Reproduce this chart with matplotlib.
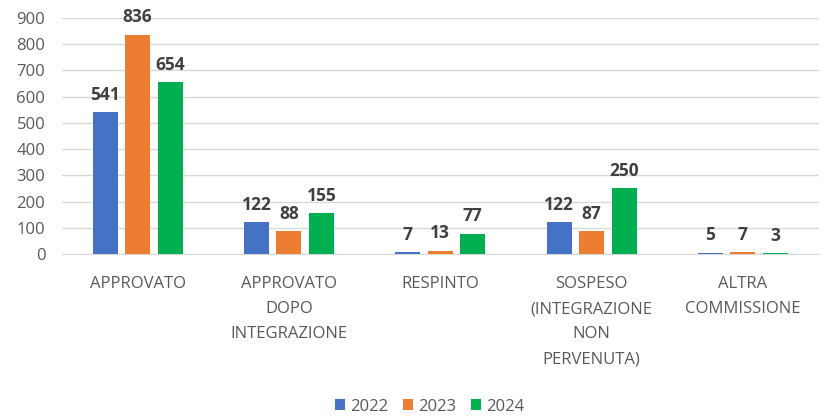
import numpy as np
import matplotlib
matplotlib.use("Agg")
from matplotlib import pyplot as plt

# data
categories = ["APPROVATO", "APPROVATO\nDOPO\nINTEGRAZIONE", "RESPINTO",
              "SOSPESO\n(INTEGRAZIONE\nNON\nPERVENUTA)", "ALTRA\nCOMMISSIONE"]
years = ["2022", "2023", "2024"]
v2022 = [541, 122, 7, 122, 5]
v2023 = [836, 88, 13, 87, 7]
v2024 = [654, 155, 77, 250, 3]
yticks = [0, 100, 200, 300, 400, 500, 600, 700, 800, 900]

colors = ["#4472C4", "#ED7D31", "#00B050"]

plt.rcParams['font.family'] = ['Open Sans', 'DejaVu Sans']

fig = plt.figure(figsize=(8.26, 4.17), dpi=100)
ax = fig.add_axes([0.075, 0.391, 0.916, 0.566])

x = np.arange(len(categories))
step = 0.215
width = 0.165
for i, (vals, col, yr) in enumerate(zip([v2022, v2023, v2024], colors, years)):
    bars = ax.bar(x + (i - 1) * step, vals, width, color=col, label=yr, zorder=3)
    for b, v in zip(bars, vals):
        ax.annotate(str(v), (b.get_x() + b.get_width() / 2, v),
                    xytext=(0, 6), textcoords="offset points",
                    ha="center", va="bottom", fontsize=12.5, fontweight="bold",
                    color="#404040")

ax.set_xlim(-0.5, len(categories) - 0.5)
ax.set_ylim(0, 900)
ax.set_yticks(yticks)
ax.yaxis.grid(True, color="#D9D9D9", linewidth=1, zorder=0)
ax.set_axisbelow(True)
for s in ["top", "right", "left"]:
    ax.spines[s].set_visible(False)
ax.spines["bottom"].set_color("#D9D9D9")
ax.tick_params(axis="both", length=0, colors="#595959", labelsize=12)
ax.tick_params(axis="y", pad=12)
ax.set_xticks(x)
ax.set_xticklabels(categories, linespacing=1.75)
ax.tick_params(axis="x", pad=16)

fig.legend(loc="lower center", ncol=3, frameon=False, fontsize=12,
           bbox_to_anchor=(0.52, -0.03), handlelength=0.6, handleheight=0.6,
           handletextpad=0.3, columnspacing=0.9, labelcolor="#595959")

fig.savefig("out.png", dpi=100)
